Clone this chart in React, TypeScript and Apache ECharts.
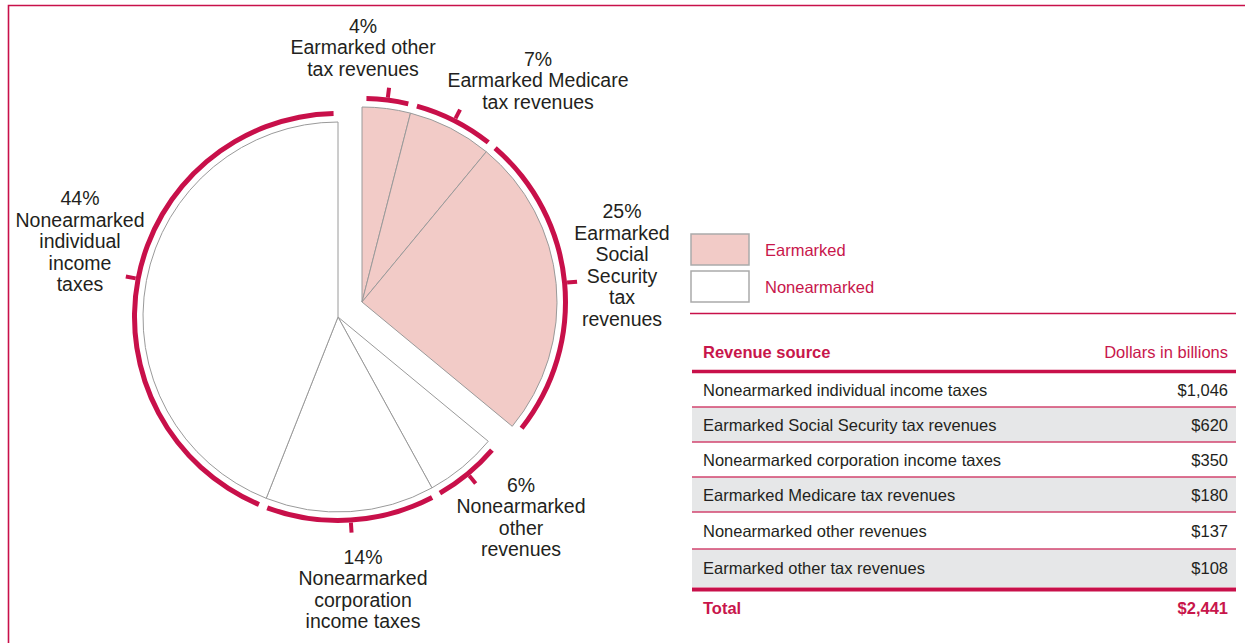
import { useEffect, useRef } from 'react';
import * as echarts from 'echarts';

// ---------- data ----------
const sliceGroups = ['Earmarked', 'Earmarked', 'Earmarked', 'Nonearmarked', 'Nonearmarked', 'Nonearmarked'];
const sliceLabels = [
  'Earmarked other\ntax revenues',
  'Earmarked Medicare\ntax revenues',
  'Earmarked\nSocial\nSecurity\ntax\nrevenues',
  'Nonearmarked\nother\nrevenues',
  'Nonearmarked\ncorporation\nincome taxes',
  'Nonearmarked\nindividual\nincome\ntaxes',
];
const slicePercents = [4, 7, 25, 6, 14, 44];

const legendItems = ['Earmarked', 'Nonearmarked'];

const tableHeader = ['Revenue source', 'Dollars in billions'];
const tableSources = [
  'Nonearmarked individual income taxes',
  'Earmarked Social Security tax revenues',
  'Nonearmarked corporation income taxes',
  'Earmarked Medicare tax revenues',
  'Nonearmarked other revenues',
  'Earmarked other tax revenues',
];
const tableValues = [1046, 620, 350, 180, 137, 108];
const totalLabel = 'Total';

// ---------- styles / layout ----------
const CRIMSON = '#C8104A';
const TEXT_CRIMSON = '#C8164B';
const PINK = '#F2CBC7';
const DARK = '#231F20';
const FONT = 'Liberation Sans, Arial, Helvetica, sans-serif';
const groupFill: Record<string, string> = { Earmarked: PINK, Nonearmarked: '#FFFFFF' };
const groupCenter: Record<string, number[]> = { Earmarked: [362, 302], Nonearmarked: [338, 317] };
const labelCenters = [
  [363, 47],
  [538, 80],
  [622, 265],
  [521, 517],
  [363, 589],
  [80, 241],
];
const rowBounds = [373, 407, 442, 477, 512, 549, 587];

const fmt = (v: number) => '$' + v.toLocaleString('en-US');

function pieSeries(group: string) {
  return {
    type: 'pie',
    silent: true,
    center: groupCenter[group],
    radius: [0, 195],
    startAngle: 90,
    clockwise: true,
    avoidLabelOverlap: false,
    label: { show: false },
    labelLine: { show: false },
    data: slicePercents.map((v, i) => ({
      name: sliceLabels[i],
      value: v,
      itemStyle:
        sliceGroups[i] === group
          ? { color: groupFill[group], borderColor: '#9A9A9A', borderWidth: 1 }
          : { color: 'rgba(0,0,0,0)', borderWidth: 0 },
    })),
  };
}

function ringSeries(group: string) {
  return {
    type: 'pie',
    silent: true,
    center: groupCenter[group],
    radius: [201, 206],
    startAngle: 90,
    clockwise: true,
    padAngle: 2.5,
    avoidLabelOverlap: false,
    label: {
      show: true,
      position: 'outside',
      color: DARK,
      fontFamily: FONT,
      fontSize: 19.5,
      lineHeight: 21.5,
      align: 'center',
      formatter: (p: any) => `${p.value}%\n${p.name}`,
    },
    labelLine: {
      show: true,
      length: 10,
      length2: 0,
      smooth: false,
      lineStyle: { color: CRIMSON, width: 4 },
    },
    labelLayout: (params: any) => {
      const c = labelCenters[params.dataIndex];
      const pts = params.labelLinePoints;
      const out: any = { x: c[0], y: c[1], align: 'center', verticalAlign: 'middle' };
      if (pts) out.labelLinePoints = [pts[0], pts[1], pts[1]];
      return out;
    },
    data: slicePercents.map((v, i) => {
      const mine = sliceGroups[i] === group;
      return {
        name: sliceLabels[i],
        value: v,
        itemStyle: { color: mine ? CRIMSON : 'rgba(0,0,0,0)', borderWidth: 0 },
        label: { show: mine },
        labelLine: { show: mine },
      };
    }),
  };
}

function txt(x: number, y: number, text: string, opts: any = {}) {
  return {
    type: 'text',
    x,
    y,
    silent: true,
    style: {
      text,
      fill: opts.fill || DARK,
      fontFamily: FONT,
      fontSize: opts.fontSize || 16.5,
      fontWeight: opts.fontWeight || 'normal',
      textAlign: opts.align || 'left',
      align: opts.align || 'left',
      textVerticalAlign: 'middle',
      verticalAlign: 'middle',
    },
  };
}

function hline(x1: number, x2: number, y: number, width: number, color: string) {
  return {
    type: 'line',
    silent: true,
    shape: { x1, y1: y, x2, y2: y },
    style: { stroke: color, lineWidth: width },
  };
}

function buildGraphic() {
  const els: any[] = [];
  // frame
  els.push({
    type: 'polyline',
    silent: true,
    shape: { points: [[8.5, 660], [8.5, 5.5], [1260, 5.5]] },
    style: { stroke: CRIMSON, lineWidth: 1.6, fill: 'none' },
  });
  // legend
  const legendY = [234, 271];
  legendItems.forEach((name, i) => {
    els.push({
      type: 'rect',
      silent: true,
      shape: { x: 691, y: legendY[i], width: 58, height: 31 },
      style: { fill: groupFill[name], stroke: '#ABABAB', lineWidth: 1.5 },
    });
    els.push(txt(765, legendY[i] + 16, name, { fill: TEXT_CRIMSON }));
  });
  els.push(hline(690, 1236, 313.5, 1.5, CRIMSON));

  // table
  const L = 692;
  const R = 1236;
  tableSources.forEach((_, i) => {
    if (i % 2 === 1) {
      els.push({
        type: 'rect',
        silent: true,
        shape: { x: L, y: rowBounds[i], width: R - L, height: rowBounds[i + 1] - rowBounds[i] },
        style: { fill: '#E6E7E8' },
      });
    }
  });
  els.push(txt(703, 352, tableHeader[0], { fill: TEXT_CRIMSON, fontWeight: 'bold' }));
  els.push(txt(1228, 352, tableHeader[1], { fill: TEXT_CRIMSON, align: 'right' }));
  els.push(hline(L, R, 371.5, 3.5, CRIMSON));
  tableSources.forEach((name, i) => {
    const cy = (rowBounds[i] + rowBounds[i + 1]) / 2;
    els.push(txt(703, cy, name));
    els.push(txt(1228, cy, fmt(tableValues[i]), { align: 'right' }));
    if (i > 0) els.push(hline(L, R, rowBounds[i], 1.3, '#D2456F'));
  });
  els.push(hline(L, R, 589.5, 4, CRIMSON));
  const total = tableValues.reduce((a, b) => a + b, 0);
  els.push(txt(703, 608, totalLabel, { fill: TEXT_CRIMSON, fontWeight: 'bold' }));
  els.push(txt(1228, 608, fmt(total), { fill: TEXT_CRIMSON, fontWeight: 'bold', align: 'right' }));
  return els;
}

export default function App() {
  const ref = useRef<HTMLDivElement>(null);
  useEffect(() => {
    if (!ref.current) return;
    const chart = echarts.init(ref.current, undefined, { renderer: 'svg' });
    chart.setOption({
      animation: false,
      backgroundColor: '#FFFFFF',
      series: [
        pieSeries('Earmarked'),
        pieSeries('Nonearmarked'),
        ringSeries('Earmarked'),
        ringSeries('Nonearmarked'),
      ],
      graphic: { elements: buildGraphic() },
    } as any);
    return () => chart.dispose();
  }, []);
  return (
    <div
      ref={ref}
      style={{ position: 'fixed', left: 0, top: 0, width: 1245, height: 643, background: '#fff' }}
    />
  );
}
